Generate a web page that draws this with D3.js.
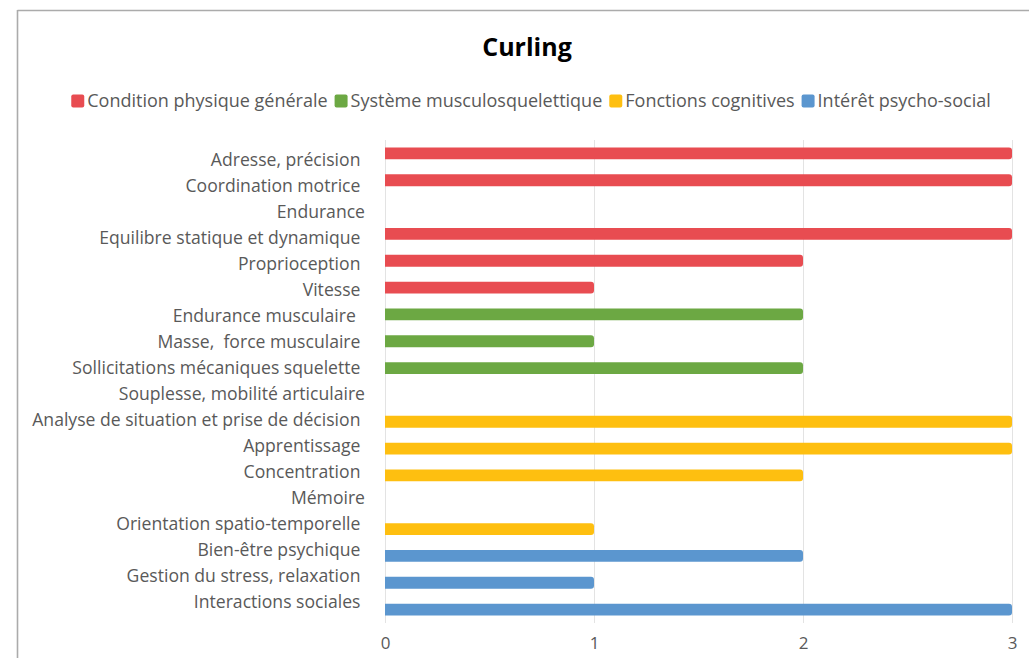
<!DOCTYPE html>
<html>
<head>
<meta charset="utf-8">
<script src="https://cdn.jsdelivr.net/npm/d3@7"></script>
<style>
  html, body { margin: 0; padding: 0; background: #fff; }
  svg { display: block; font-family: "Open Sans", "Noto Sans", sans-serif; }
  .lbl text { white-space: pre; }
</style>
</head>
<body>
<svg id="chart" width="1029" height="658"></svg>
<script>
// ---- data ----
const title = "Curling";
const seriesNames = ["Condition physique générale", "Système musculosquelettique", "Fonctions cognitives", "Intérêt psycho-social"];
const seriesColors = ["#E84C51", "#6CA843", "#FEBF10", "#5B96CF"];

const conditionCats = ["Adresse, précision ", "Coordination motrice ", "Endurance", "Equilibre statique et dynamique ", "Proprioception ", "Vitesse "];
const conditionVals = [3, 3, 0, 3, 2, 1];
const musculoCats = ["Endurance musculaire  ", "Masse,  force musculaire ", "Sollicitations mécaniques squelette ", "Souplesse, mobilité articulaire"];
const musculoVals = [2, 1, 2, 0];
const cognitiveCats = ["Analyse de situation et prise de décision ", "Apprentissage ", "Concentration ", "Mémoire", "Orientation spatio-temporelle "];
const cognitiveVals = [3, 3, 2, 0, 1];
const psychoCats = ["Bien-être psychique ", "Gestion du stress, relaxation ", "Interactions sociales "];
const psychoVals = [2, 1, 3];
const xTicks = [0, 1, 2, 3];

// ---- build rows ----
const groups = [
  [conditionCats, conditionVals],
  [musculoCats, musculoVals],
  [cognitiveCats, cognitiveVals],
  [psychoCats, psychoVals]
];
const rows = [];
groups.forEach(([cats, vals], gi) => {
  cats.forEach((c, i) => rows.push({ cat: c, value: vals[i], series: gi }));
});
const categories = rows.map(r => r.cat);

const svg = d3.select("#chart");

// frame
svg.append("line").attr("x1", 17.5).attr("x2", 1029).attr("y1", 10.5).attr("y2", 10.5)
  .attr("stroke", "#ababab").attr("stroke-width", 1.6);
svg.append("line").attr("x1", 17.5).attr("x2", 17.5).attr("y1", 10).attr("y2", 658)
  .attr("stroke", "#ababab").attr("stroke-width", 1.6);

// scales
const x = d3.scaleLinear().domain([0, 3]).range([385, 1012]);
const yBar = d3.scaleBand().domain(categories).range([140, 623]).paddingInner(0.56).paddingOuter(0.28);
const yLbl = d3.scaleBand().domain(categories).range([147, 615]);
const color = d3.scaleOrdinal().domain(d3.range(seriesNames.length)).range(seriesColors);

// gridlines + x tick labels
const xAxis = svg.append("g").attr("transform", "translate(0,623)")
  .call(d3.axisBottom(x).tickValues(xTicks).tickFormat(d3.format("d")).tickSize(-483).tickPadding(14));
xAxis.select(".domain").remove();
xAxis.selectAll(".tick line").attr("stroke", "#e3e3e3").attr("stroke-width", 1);
xAxis.selectAll(".tick text").attr("fill", "#595959").attr("font-size", 17)
  .attr("font-family", "'Open Sans', sans-serif");

// bars (rounded right end)
const r = 3;
svg.append("g").selectAll("path").data(rows.filter(d => d.value > 0)).join("path")
  .attr("d", d => {
    const x0 = x(0), x1 = x(d.value), y0 = yBar(d.cat), h = yBar.bandwidth();
    return `M${x0},${y0}H${x1 - r}Q${x1},${y0} ${x1},${y0 + r}V${y0 + h - r}Q${x1},${y0 + h} ${x1 - r},${y0 + h}H${x0}Z`;
  })
  .attr("fill", d => color(d.series));

// category labels
const yAxis = svg.append("g").attr("class", "lbl").attr("transform", "translate(365,0)")
  .call(d3.axisLeft(yLbl).tickSize(0).tickPadding(0));
yAxis.select(".domain").remove();
yAxis.selectAll(".tick text").attr("fill", "#595959").attr("font-size", 17.6)
  .attr("font-family", "'Open Sans', sans-serif");

// title
svg.append("text").attr("x", 527).attr("y", 56).attr("text-anchor", "middle")
  .attr("font-size", 25).attr("font-weight", "bold").attr("fill", "#000").text(title);

// legend
const legend = svg.append("g");
let cx = 0;
const sq = 13;
seriesNames.forEach((name, i) => {
  const g = legend.append("g").attr("transform", `translate(${cx},0)`);
  g.append("rect").attr("x", 0).attr("y", -sq / 2).attr("width", sq).attr("height", sq)
    .attr("rx", 2).attr("fill", seriesColors[i]);
  const t = g.append("text").attr("x", sq + 3).attr("y", 0).attr("dy", "0.35em")
    .attr("font-size", 18).attr("fill", "#595959").text(name);
  cx += sq + 3 + t.node().getComputedTextLength() + 7;
});
const totalW = cx - 7;
legend.attr("transform", `translate(${531 - totalW / 2},101)`);
</script>
</body>
</html>
